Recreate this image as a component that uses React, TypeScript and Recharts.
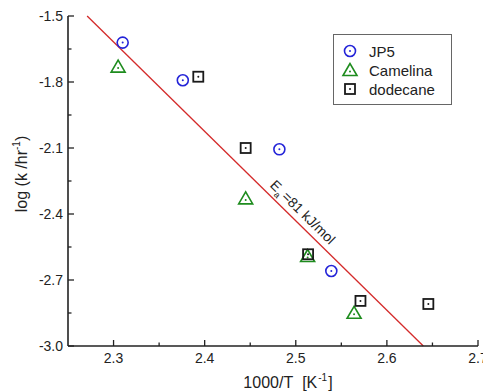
import React from "react";
import {
  ScatterChart,
  Scatter,
  XAxis,
  YAxis,
  ReferenceLine,
  ReferenceDot,
} from "recharts";

const jp5X = [2.31, 2.376, 2.482, 2.539];
const jp5Y = [-1.621, -1.792, -2.106, -2.659];
const camelinaX = [2.305, 2.445, 2.513, 2.564];
const camelinaY = [-1.73, -2.329, -2.591, -2.849];
const dodecaneX = [2.393, 2.445, 2.5135, 2.571, 2.6455];
const dodecaneY = [-1.776, -2.1, -2.583, -2.795, -2.809];
const fitLine = [
  { x: 2.271, y: -1.5 },
  { x: 2.64, y: -3.0 },
];
const xTicks = [2.3, 2.35, 2.4, 2.45, 2.5, 2.55, 2.6, 2.65, 2.7];
const xMajor = ["2.3", "2.4", "2.5", "2.6", "2.7"];
const yTicks = [-1.5, -1.65, -1.8, -1.95, -2.1, -2.25, -2.4, -2.55, -2.7, -2.85, -3.0];
const yMajor = ["-1.5", "-1.8", "-2.1", "-2.4", "-2.7", "-3.0"];
const annotation = { x: 2.504, y: -2.407 };

const seriesNames = ["JP5", "Camelina", "dodecane"];
const BLUE = "#2424d8";
const GREEN = "#1e8c1e";
const BLACK = "#1a1a1a";
const RED = "#d42a2a";
const AXIS = "#222";
const FONT = "Arial, 'Liberation Sans', sans-serif";

const toPts = (xs: number[], ys: number[]) => xs.map((x, i) => ({ x, y: ys[i] }));
const jp5 = toPts(jp5X, jp5Y);
const camelina = toPts(camelinaX, camelinaY);
const dodecane = toPts(dodecaneX, dodecaneY);

const CircleMark = ({ cx, cy }: any) => (
  <g>
    <circle cx={cx} cy={cy} r={5.5} fill="none" stroke={BLUE} strokeWidth={1.6} />
    <circle cx={cx} cy={cy} r={1} fill={BLUE} />
  </g>
);
const TriMark = ({ cx, cy }: any) => (
  <g>
    <polygon
      points={`${cx},${cy - 6.5} ${cx - 7},${cy + 5.5} ${cx + 7},${cy + 5.5}`}
      fill="none"
      stroke={GREEN}
      strokeWidth={1.6}
    />
    <circle cx={cx} cy={cy + 1.5} r={1} fill={GREEN} />
  </g>
);
const SqMark = ({ cx, cy }: any) => (
  <g>
    <rect x={cx - 5} y={cy - 5} width={10} height={10} fill="none" stroke={BLACK} strokeWidth={1.8} />
    <circle cx={cx} cy={cy} r={1} fill={BLACK} />
  </g>
);

const isMajor = (v: number, labels: string[]) =>
  labels.some((l) => Math.abs(parseFloat(l) - v) < 1e-6);
const labelOf = (v: number, labels: string[]) =>
  labels.find((l) => Math.abs(parseFloat(l) - v) < 1e-6) || "";

const BottomTick = ({ x, y, payload }: any) => {
  const major = isMajor(payload.value, xMajor);
  return (
    <g>
      <line x1={x} y1={y} x2={x} y2={y - (major ? 6 : 3.5)} stroke={AXIS} strokeWidth={1.3} />
      {major && (
        <text x={x} y={y + 17} textAnchor="middle" fontSize={14} fill="#222" fontFamily={FONT}>
          {labelOf(payload.value, xMajor)}
        </text>
      )}
    </g>
  );
};
const TopTick = ({ x, y, payload }: any) => {
  const major = isMajor(payload.value, xMajor);
  return <line x1={x} y1={y} x2={x} y2={y + (major ? 6 : 3.5)} stroke={AXIS} strokeWidth={1.3} />;
};
const LeftTick = ({ x, y, payload }: any) => {
  const major = isMajor(payload.value, yMajor);
  return (
    <g>
      <line x1={x} y1={y} x2={x + (major ? 6 : 3.5)} y2={y} stroke={AXIS} strokeWidth={1.3} />
      {major && (
        <text x={x - 5} y={y + 5} textAnchor="end" fontSize={14} fill="#222" fontFamily={FONT}>
          {labelOf(payload.value, yMajor)}
        </text>
      )}
    </g>
  );
};
const RightTick = ({ x, y, payload }: any) => {
  const major = isMajor(payload.value, yMajor);
  return <line x1={x} y1={y} x2={x - (major ? 6 : 3.5)} y2={y} stroke={AXIS} strokeWidth={1.3} />;
};

const LegendSvg = () => {
  const marks = [CircleMark, TriMark, SqMark];
  const lx = 333;
  const ly = 34;
  return (
    <g>
      <rect x={lx + 0.5} y={ly + 0.5} width={118} height={70} fill="#fff" stroke="#666" strokeWidth={1} />
      {seriesNames.map((n, i) => {
        const M = marks[i];
        const cy = ly + 17 + i * 19;
        return (
          <g key={n}>
            <M cx={lx + 17} cy={cy} />
            <text x={lx + 36} y={cy + 5.5} fontSize={15} fill="#222" fontFamily={FONT}>
              {n}
            </text>
          </g>
        );
      })}
    </g>
  );
};

const AnnoShape = ({ cx, cy }: any) => (
  <text
    x={cx}
    y={cy}
    transform={`rotate(44.5, ${cx}, ${cy})`}
    textAnchor="middle"
    fontSize={14}
    fill="#222"
    fontFamily={FONT}
  >
    E<tspan fontSize={9} dy={4}>a</tspan>
    <tspan dy={-4} dx={2}>=81 kJ/mol</tspan>
  </text>
);

export default function App() {
  return (
    <div style={{ position: "absolute", left: 0, top: 0, width: 483, height: 392, background: "#fff" }}>
      <ScatterChart
        width={483}
        height={392}
        margin={{ top: 16, right: 5, bottom: 0, left: 8 }}
        style={{ fontFamily: FONT }}
      >
        <XAxis
          xAxisId="b"
          type="number"
          dataKey="x"
          domain={[2.25, 2.7]}
          ticks={xTicks}
          interval={0}
          allowDataOverflow
          height={46}
          tickSize={0}
          tickMargin={0}
          tickLine={false}
          axisLine={{ stroke: AXIS, strokeWidth: 1.6 }}
          tick={<BottomTick />}
        />
        <XAxis
          xAxisId="t"
          orientation="top"
          type="number"
          dataKey="x"
          domain={[2.25, 2.7]}
          ticks={xTicks}
          interval={0}
          allowDataOverflow
          height={0}
          tickSize={0}
          tickMargin={0}
          tickLine={false}
          axisLine={{ stroke: AXIS, strokeWidth: 1.6 }}
          tick={<TopTick />}
        />
        <YAxis
          yAxisId="l"
          type="number"
          dataKey="y"
          domain={[-3.0, -1.5]}
          ticks={yTicks}
          interval={0}
          allowDataOverflow
          width={60}
          tickSize={0}
          tickMargin={0}
          tickLine={false}
          axisLine={{ stroke: AXIS, strokeWidth: 1.6 }}
          tick={<LeftTick />}
        />
        <YAxis
          yAxisId="r"
          orientation="right"
          type="number"
          dataKey="y"
          domain={[-3.0, -1.5]}
          ticks={yTicks}
          interval={0}
          allowDataOverflow
          width={0}
          tickSize={0}
          tickMargin={0}
          tickLine={false}
          axisLine={{ stroke: AXIS, strokeWidth: 1.6 }}
          tick={<RightTick />}
        />
        <ReferenceLine
          xAxisId="b"
          yAxisId="l"
          segment={fitLine}
          stroke={RED}
          strokeWidth={1.3}
          ifOverflow="visible"
        />
        <ReferenceDot
          xAxisId="b"
          yAxisId="l"
          x={annotation.x}
          y={annotation.y}
          r={0}
          ifOverflow="visible"
          shape={<AnnoShape />}
        />
        <Scatter name={seriesNames[0]} data={jp5} xAxisId="b" yAxisId="l" shape={<CircleMark />} isAnimationActive={false} />
        <Scatter name={seriesNames[1]} data={camelina} xAxisId="b" yAxisId="l" shape={<TriMark />} isAnimationActive={false} />
        <Scatter name={seriesNames[2]} data={dodecane} xAxisId="b" yAxisId="l" shape={<SqMark />} isAnimationActive={false} />
        <LegendSvg />
        <text x={23} y={174} transform="rotate(-90, 23, 174)" textAnchor="middle" fontSize={16} fill="#222" fontFamily={FONT} dominantBaseline="middle">
          log (k /hr<tspan fontSize={10} dy={-6}>-1</tspan>
          <tspan dy={6}>)</tspan>
        </text>
        <text x={288} y={388} textAnchor="middle" fontSize={16} fill="#222" fontFamily={FONT}>
          1000/T<tspan dx={9}>[K</tspan>
          <tspan fontSize={10} dy={-7} dx={1}>-1</tspan>
          <tspan dy={7} dx={1}>]</tspan>
        </text>
      </ScatterChart>
    </div>
  );
}
